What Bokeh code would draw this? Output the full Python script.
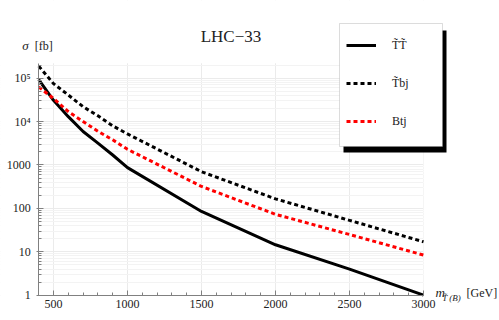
from bokeh.plotting import figure
from bokeh.models import (FixedTicker, Label, BoxAnnotation, Legend, LegendItem, Range1d)
from bokeh.embed import file_html
from bokeh.resources import INLINE

# ---- data ----
mass = [400, 500, 600, 700, 800, 900, 1000, 1500, 2000, 2500, 3000]
sigma_TT = [9.3e4, 3.1e4, 1.3e4, 5900, 3200, 1700, 870, 85, 14.5, 4.0, 1.0]
sigma_Tbj = [1.9e5, 7.5e4, 4.1e4, 2.2e4, 1.36e4, 8000, 5200, 700, 166, 53, 17]
sigma_Btj = [6.3e4, 3.4e4, 1.7e4, 1.0e4, 6000, 3800, 2300, 320, 73, 25, 8.4]

series_names = ["T\u0303T\u0303", "T\u0303bj", "Btj"]
x_ticks = [500, 1000, 1500, 2000, 2500, 3000]
x_minor = list(range(400, 3001, 100))
y_ticks = [1, 10, 100, 1000, 10000, 100000]
y_tick_labels = ["1", "10", "100", "1000", "10\u2074", "10\u2075"]

x_lo, x_hi = 400, 3000          # extent of the data axes
y_lo, y_hi = 1, 2.2e5
y_minor = [m * 10 ** e for e in range(0, 6) for m in range(2, 10) if m * 10 ** e <= y_hi]

title_text = "LHC\u221233"
FONT = "Liberation Serif"

# frame covers the whole canvas so that every annotation lies inside it;
# the axes are pinned at the data corner (x=400, y=1)
p = figure(width=499, height=320, x_range=Range1d(141.9, 3513.5), y_range=Range1d(0.261, 6.17e6),
           y_axis_type="log", output_backend="svg", toolbar_location=None, min_border=0)
p.outline_line_color = None
p.background_fill_color = "white"

p.xaxis.ticker = FixedTicker(ticks=x_ticks, minor_ticks=x_minor)
p.yaxis.ticker = FixedTicker(ticks=y_ticks, minor_ticks=y_minor)
p.yaxis.major_label_overrides = {int(t): s for t, s in zip(y_ticks, y_tick_labels)}
p.xaxis.fixed_location = y_lo
p.yaxis.fixed_location = x_lo
p.xaxis.bounds = (x_lo, x_hi)
p.yaxis.bounds = (y_lo, y_hi)

p.xgrid.ticker = FixedTicker(ticks=x_ticks)
p.xgrid.grid_line_color = "#ebebeb"
p.ygrid.ticker = FixedTicker(ticks=y_ticks, minor_ticks=y_minor)
p.ygrid.grid_line_color = "#ebebeb"
p.ygrid.minor_grid_line_color = "#f3f3f3"

# white masks outside the data rectangle (hide grid overflow)
for kw in (dict(right=x_lo), dict(left=x_hi), dict(bottom=y_hi), dict(top=y_lo)):
    p.add_layout(BoxAnnotation(level="underlay", fill_color="white", fill_alpha=1.0,
                               line_color=None, **kw))

for ax in (p.xaxis, p.yaxis):
    ax.axis_line_color = "#808080"
    ax.major_tick_line_color = "#808080"
    ax.minor_tick_line_color = "#808080"
    ax.major_tick_in = 5
    ax.major_tick_out = 0
    ax.minor_tick_in = 3
    ax.minor_tick_out = 0
    ax.major_label_text_font = FONT
    ax.major_label_text_font_size = "12px"
    ax.major_label_text_color = "#222222"
p.yaxis.major_tick_out = 2
p.xaxis.major_label_standoff = 5
p.yaxis.major_label_standoff = 6

r1 = p.line(mass, sigma_TT, line_color="black", line_width=3)
r2 = p.line(mass, sigma_Tbj, line_color="black", line_width=3, line_dash="4 3")
r3 = p.line(mass, sigma_Btj, line_color="#ff0000", line_width=3, line_dash="4 3")

# legend frame with drop shadow
S = dict(left_units="screen", right_units="screen", top_units="screen", bottom_units="screen")
p.add_layout(BoxAnnotation(left=343, right=446, top=290, bottom=168,
                           fill_color="black", fill_alpha=1.0, line_color=None, **S))
p.add_layout(BoxAnnotation(left=339, right=442, top=297, bottom=174,
                           fill_color="white", fill_alpha=1.0, line_color="#8c8c8c", line_width=1, **S))

legend = Legend(items=[LegendItem(label=series_names[0], renderers=[r1]),
                       LegendItem(label=series_names[1], renderers=[r2]),
                       LegendItem(label=series_names[2], renderers=[r3])],
                location=(346, 189), orientation="vertical", padding=0, margin=0,
                spacing=18, label_height=20, glyph_height=20, glyph_width=30, label_standoff=16,
                border_line_color=None, background_fill_alpha=0.0,
                label_text_font=FONT, label_text_font_size="12px", label_text_color="#222222")
p.add_layout(legend)

def lab(x, y, text, size, style="normal", align="left", baseline="middle"):
    p.add_layout(Label(x=x, y=y, x_units="screen", y_units="screen", text=text,
                       text_font=FONT, text_font_size=size, text_font_style=style,
                       text_align=align, text_baseline=baseline, text_color="#222222"))

lab(230.5, 284, title_text, "17px", align="center", baseline="alphabetic")
lab(21.7, 275, "\u03c3", "13px", style="italic")
lab(34.3, 275, "[fb]", "12px")
lab(435, 28, "m", "13px", style="italic")
lab(441.7, 23, "T\u0303 (B)", "9px", style="italic")
lab(466, 28, "[GeV]", "12px")

open("out.html", "w").write(file_html(p, INLINE))
